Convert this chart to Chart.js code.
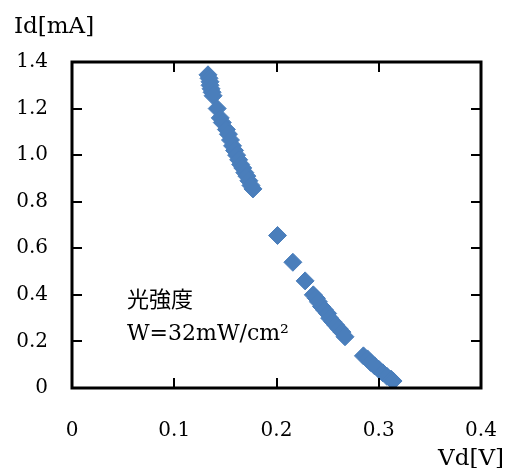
<!DOCTYPE html>
<html lang="ja">
<head>
  <meta charset="UTF-8" />
  <title>Id-Vd</title>
  <script src="https://cdn.jsdelivr.net/npm/chart.js"></script>
  <style>
    body { margin: 0; background: #fff; }
    canvas { display: block; }
  </style>
</head>
<body>
  <canvas id="grafico" width="509" height="468"></canvas>

  <script>
    // 読み取った測定点 (Vd [V], Id [mA])
    const vd = [
      0.133, 0.134, 0.135, 0.135, 0.136, 0.137, 0.138, 0.142, 0.145, 0.147,
      0.151, 0.153, 0.155, 0.157, 0.159, 0.161, 0.163, 0.165, 0.167, 0.169,
      0.171, 0.173, 0.175, 0.177,
      0.201, 0.216, 0.228,
      0.236, 0.239, 0.241, 0.244, 0.247, 0.250, 0.252, 0.255, 0.258, 0.261,
      0.264, 0.267,
      0.285, 0.289, 0.292, 0.296, 0.300, 0.304, 0.308, 0.312, 0.314
    ];
    const id = [
      1.345, 1.33, 1.315, 1.30, 1.285, 1.27, 1.255, 1.20, 1.16, 1.14,
      1.11, 1.09, 1.065, 1.04, 1.02, 1.00, 0.98, 0.96, 0.945, 0.925,
      0.91, 0.89, 0.87, 0.855,
      0.655, 0.54, 0.46,
      0.40, 0.385, 0.37, 0.35, 0.335, 0.32, 0.30, 0.285, 0.27, 0.255,
      0.24, 0.22,
      0.138, 0.125, 0.11, 0.095, 0.08, 0.065, 0.05, 0.038, 0.03
    ];

    const xTicks = ['0', '0.1', '0.2', '0.3', '0.4'];
    const yTicks = ['0', '0.2', '0.4', '0.6', '0.8', '1.0', '1.2', '1.4'];

    const fonte = '"DejaVu Serif", "Noto Sans CJK JP", serif';

    const pontos = vd.map((v, i) => ({ x: v, y: id[i] }));

    // moldura com marcas para dentro + textos soltos
    const moldura = {
      id: 'moldura',
      afterDraw(chart) {
        const c = chart.ctx;
        const a = chart.chartArea;
        const sx = chart.scales.x;
        const sy = chart.scales.y;
        c.save();
        c.strokeStyle = '#000';
        c.lineWidth = 2;
        for (let i = 1; i < xTicks.length - 1; i++) {
          const px = Math.round(sx.getPixelForValue(i * 0.1));
          c.beginPath();
          c.moveTo(px, a.bottom); c.lineTo(px, a.bottom - 10);
          c.moveTo(px, a.top); c.lineTo(px, a.top + 10);
          c.stroke();
        }
        for (let i = 1; i < yTicks.length - 1; i++) {
          const py = Math.round(sy.getPixelForValue(i * 0.2));
          c.beginPath();
          c.moveTo(a.left, py); c.lineTo(a.left + 10, py);
          c.moveTo(a.right, py); c.lineTo(a.right - 10, py);
          c.stroke();
        }
        c.lineWidth = 3;
        c.strokeRect(a.left, a.top, a.right - a.left, a.bottom - a.top);

        c.fillStyle = '#000';
        c.textBaseline = 'alphabetic';
        c.font = '23px ' + fonte;
        c.textAlign = 'left';
        c.fillText('Id[mA]', 14, 33);
        c.textAlign = 'right';
        c.fillText('Vd[V]', 504, 465);
        c.textAlign = 'left';
        c.font = '22px ' + fonte;
        c.fillText('光強度', 127, 307);
        c.fillText('W=32mW/cm²', 127, 340);
        c.restore();
      }
    };

    new Chart(document.getElementById('grafico'), {
      type: 'scatter',
      data: {
        datasets: [{
          label: 'Id',
          data: pontos,
          pointStyle: 'rectRot',
          pointRadius: 9,
          pointBackgroundColor: '#4A7EBB',
          pointBorderColor: '#4A7EBB',
          pointBorderWidth: 1
        }]
      },
      options: {
        responsive: false,
        animation: false,
        layout: { padding: { left: 0, top: 62, right: 28, bottom: 0 } },
        plugins: {
          legend: { display: false },
          tooltip: { enabled: false }
        },
        scales: {
          x: {
            type: 'linear',
            min: 0,
            max: 0.4,
            afterFit: s => { s.height = 80; s.paddingLeft = 0; s.paddingRight = 0; },
            grid: { display: false, drawTicks: false },
            border: { display: false },
            ticks: {
              stepSize: 0.1,
              padding: 31,
              color: '#000',
              font: { family: fonte, size: 20 },
              callback: (v, i) => xTicks[i]
            }
          },
          y: {
            min: 0,
            max: 1.4,
            afterFit: s => { s.width = 72; s.paddingTop = 0; s.paddingBottom = 0; },
            grid: { display: false, drawTicks: false },
            border: { display: false },
            ticks: {
              stepSize: 0.2,
              padding: 24,
              color: '#000',
              font: { family: fonte, size: 20 },
              callback: (v, i) => yTicks[i]
            }
          }
        }
      },
      plugins: [moldura]
    });
  </script>
</body>
</html>
